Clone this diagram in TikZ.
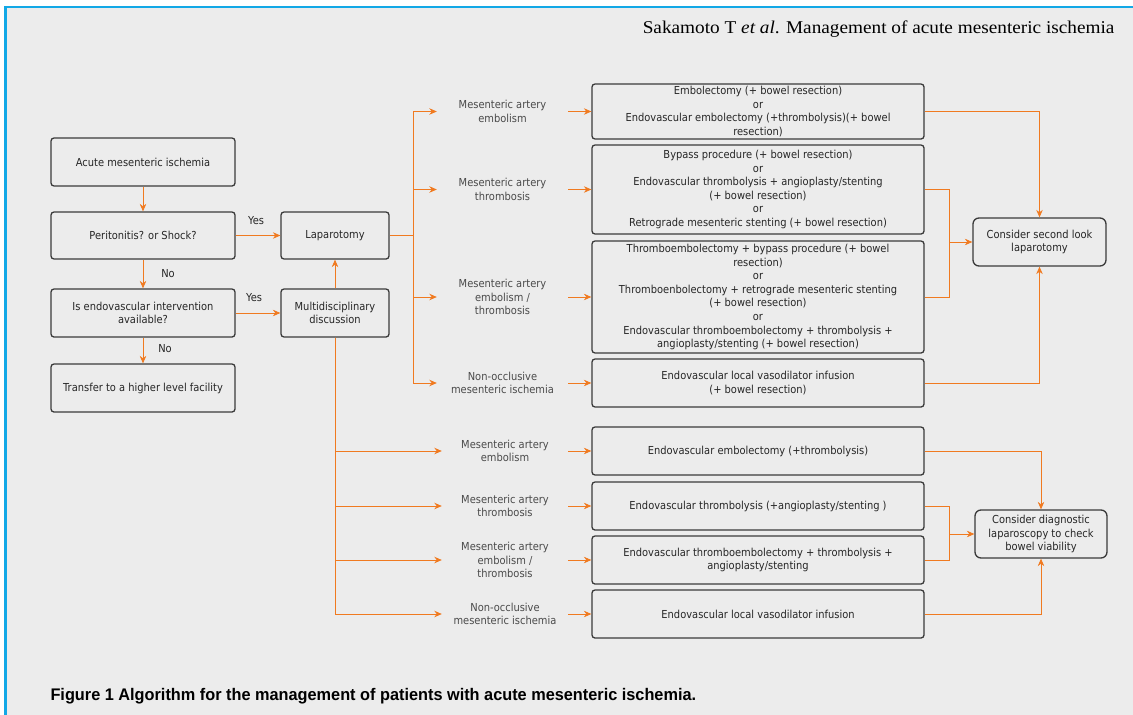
\documentclass[tikz,border=0pt]{standalone}
\usepackage{fontspec}
\usetikzlibrary{arrows.meta}
\newfontfamily\bfont[FakeStretch=0.9]{DejaVu Sans}
\newfontfamily\capfont[FakeStretch=0.97]{Liberation Sans}
\newfontfamily\hdfont[FakeStretch=1.07]{Liberation Serif}
\definecolor{bg}{HTML}{ECECEC}
\definecolor{blueb}{HTML}{12A8E6}
\definecolor{orng}{HTML}{F07A20}
\definecolor{boxd}{HTML}{3A3A3A}
\definecolor{txt}{HTML}{262626}
\definecolor{lblc}{HTML}{4A4A4A}
\tikzset{
  x=1pt, y=-1pt,
  box/.style={draw=boxd, line width=1.3pt, rounded corners=3pt, align=center, inner sep=0pt,
    font=\fontsize{11}{13.6}\bfont, text=txt},
  cbox/.style={box, rounded corners=6pt},
  sz/.style 2 args={minimum width=#1pt, minimum height=#2pt},
  lbl/.style={align=center, inner sep=0pt, font=\fontsize{11}{13.6}\bfont, text=lblc},
  yn/.style={inner sep=0pt, font=\fontsize{11}{13.6}\bfont, text=txt},
  ln/.style={draw=orng, line width=0.8pt},
  arr/.style={ln, -{Stealth[length=7.5pt,width=6.5pt]}},
}
\begin{document}
\begin{tikzpicture}
\useasboundingbox (0,0) rectangle (1133,715);
\fill[white] (0,0) rectangle (1133,715);
\fill[bg] (5.5,7) rectangle (1133,715);
\draw[blueb, line width=2.5pt] (5.5,715) -- (5.5,7) -- (1133,7);

\node[anchor=base east, font=\fontsize{18}{20}\hdfont, text=black] (hdr) at (1118,33)
  {Sakamoto T \textit{et al}. Management of acute mesenteric ischemia};
\node[anchor=base west, font=\fontsize{16.8}{18}\capfont\bfseries, text=black] (cap) at (47,700)
  {Figure 1 Algorithm for the management of patients with acute mesenteric ischemia.};

% left column
\node[box, sz={184}{48}] (acute) at (143,162) {Acute mesenteric ischemia};
\node[box, sz={184}{47}] (peri) at (143,235.5) {Peritonitis? or Shock?};
\node[box, sz={184}{48}] (endo) at (143,313) {Is endovascular intervention\\available?};
\node[box, sz={184}{48}] (trans) at (143,388) {Transfer to a higher level facility};
\node[box, sz={108}{47}] (lap) at (335,235.5) {Laparotomy};
\node[box, sz={108}{48}] (multi) at (335,313) {Multidisciplinary\\discussion};

\node[yn] (y1) at (256,221) {Yes};
\node[yn] (y2) at (254,298) {Yes};
\node[yn] (n1) at (168,274) {No};
\node[yn] (n2) at (165,349) {No};

\draw[arr] (acute) -- (peri);
\draw[arr] (peri) -- (endo);
\draw[arr] (endo) -- (trans);
\draw[arr] (peri) -- (lap);
\draw[arr] (endo) -- (multi);
\draw[arr] (multi) -- (lap);

% upper branch
\coordinate (j1) at (413,235.5);
\node[lbl, minimum width=131pt] (l1) at (502.5,111.5) {Mesenteric artery\\embolism};
\node[lbl, minimum width=131pt] (l2) at (502.5,189.5) {Mesenteric artery\\thrombosis};
\node[lbl, minimum width=131pt] (l3) at (502.5,297) {Mesenteric artery\\embolism /\\thrombosis};
\node[lbl, minimum width=131pt] (l4) at (502.5,383) {Non-occlusive\\mesenteric ischemia};

\node[box, sz={332}{55}] (b1) at (758,111.5) {Embolectomy (+ bowel resection)\\or\\Endovascular embolectomy (+thrombolysis)(+ bowel\\resection)};
\node[box, sz={332}{89}] (b2) at (758,189.5) {Bypass procedure (+ bowel resection)\\or\\Endovascular thrombolysis + angioplasty/stenting\\(+ bowel resection)\\or\\Retrograde mesenteric stenting (+ bowel resection)};
\node[box, sz={332}{112}] (b3) at (758,297) {Thromboembolectomy + bypass procedure (+ bowel\\resection)\\or\\Thromboenbolectomy + retrograde mesenteric stenting\\(+ bowel resection)\\or\\Endovascular thromboembolectomy + thrombolysis +\\angioplasty/stenting (+ bowel resection)};
\node[box, sz={332}{48}] (b4) at (758,383) {Endovascular local vasodilator infusion\\(+ bowel resection)};
\node[cbox, sz={133}{48}] (c1) at (1039.5,242) {Consider second look\\laparotomy};

\draw[ln] (lap) -- (j1);
\draw[arr] (j1) |- (l1);
\draw[arr] (j1) |- (l2);
\draw[arr] (j1) |- (l3);
\draw[arr] (j1) |- (l4);
\draw[arr] (l1) -- (b1);
\draw[arr] (l2) -- (b2);
\draw[arr] (l3) -- (b3);
\draw[arr] (l4) -- (b4);

\coordinate (j3) at (949,242);
\draw[arr] (b1) -| (c1);
\draw[ln] (b2) -| (j3);
\draw[ln] (b3) -| (j3);
\draw[arr] (j3) -- (c1);
\draw[arr] (b4) -| (c1);

% lower branch
\node[lbl, minimum width=126pt] (m1) at (505,451) {Mesenteric artery\\embolism};
\node[lbl, minimum width=126pt] (m2) at (505,506) {Mesenteric artery\\thrombosis};
\node[lbl, minimum width=126pt] (m3) at (505,560) {Mesenteric artery\\embolism /\\thrombosis};
\node[lbl, minimum width=126pt] (m4) at (505,614) {Non-occlusive\\mesenteric ischemia};

\node[box, sz={332}{48}] (b5) at (758,451) {Endovascular embolectomy (+thrombolysis)};
\node[box, sz={332}{48}] (b6) at (758,506) {Endovascular thrombolysis (+angioplasty/stenting )};
\node[box, sz={332}{48}] (b7) at (758,560) {Endovascular thromboembolectomy + thrombolysis +\\angioplasty/stenting};
\node[box, sz={332}{48}] (b8) at (758,614) {Endovascular local vasodilator infusion};
\node[cbox, sz={132}{48}] (c2) at (1041,534) {Consider diagnostic\\laparoscopy to check\\bowel viability};

\draw[arr] (multi) |- (m1);
\draw[arr] (multi) |- (m2);
\draw[arr] (multi) |- (m3);
\draw[arr] (multi) |- (m4);
\draw[arr] (m1) -- (b5);
\draw[arr] (m2) -- (b6);
\draw[arr] (m3) -- (b7);
\draw[arr] (m4) -- (b8);

\coordinate (j4) at (949,534);
\draw[arr] (b5) -| (c2);
\draw[ln] (b6) -| (j4);
\draw[ln] (b7) -| (j4);
\draw[arr] (j4) -- (c2);
\draw[arr] (b8) -| (c2);
\end{tikzpicture}
\end{document}
